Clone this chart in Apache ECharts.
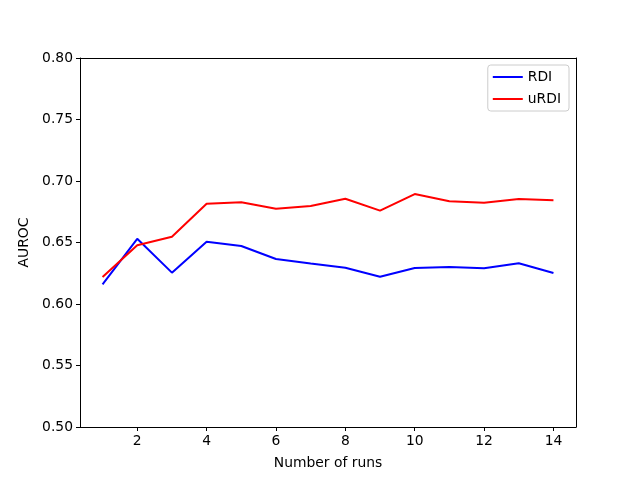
<!DOCTYPE html>
<html><head><meta charset="utf-8">
<script src="https://cdn.jsdelivr.net/npm/echarts@6/dist/echarts.min.js"></script>
<style>html,body{margin:0;padding:0;background:#fff}#c{width:640px;height:480px}</style>
</head><body><div id="c"></div>
<script>
const runs = [1,2,3,4,5,6,7,8,9,10,11,12,13,14];
const rdi = [0.616,0.653,0.6255,0.6507,0.6472,0.6366,0.633,0.6295,0.6222,0.6293,0.6301,0.629,0.6331,0.6252];
const urdi = [0.622,0.6477,0.6547,0.6815,0.6827,0.6775,0.6797,0.6856,0.6759,0.6894,0.6835,0.6824,0.6854,0.6843];
const xTicks = [2,4,6,8,10,12,14];
const font = 'DejaVu Sans';
const fs = 13.89;
const chart = echarts.init(document.getElementById('c'));
const pair = a => runs.map((r,i)=>[r,a[i]]);
chart.setOption({
  animation:false,
  textStyle:{fontFamily:font},
  grid:{left:80,right:64,top:58,bottom:53,containLabel:false},
  legend:{
    orient:'vertical', right:71, top:65,
    data:['RDI','uRDI'],
    icon:'rect', itemWidth:30, itemHeight:2, itemGap:8,
    textStyle:{fontFamily:font,fontSize:fs,color:'#000'},
    backgroundColor:'#fff', borderColor:'#cccccc', borderWidth:1, borderRadius:3,
    padding:[5,8,5,5]
  },
  xAxis:[{
    type:'value', min:0.35, max:14.65,
    name:'Number of runs', nameLocation:'middle', nameGap:29,
    nameTextStyle:{fontFamily:font,fontSize:fs,color:'#000'},
    axisLine:{lineStyle:{color:'#000',width:1}},
    axisTick:{show:true,length:4,inside:false,customValues:xTicks,lineStyle:{color:'#000'}},
    axisLabel:{customValues:xTicks,fontFamily:font,fontSize:fs,color:'#000',margin:7},
    splitLine:{show:false}
  },{
    type:'value', position:'top', min:0.35, max:14.65,
    axisLine:{show:true,lineStyle:{color:'#000',width:1}},
    axisTick:{show:false}, axisLabel:{show:false}, splitLine:{show:false}
  }],
  yAxis:[{
    type:'value', min:0.5, max:0.8, interval:0.05,
    name:'AUROC', nameLocation:'middle', nameGap:45, nameRotate:90,
    nameTextStyle:{fontFamily:font,fontSize:fs,color:'#000'},
    axisLine:{show:true,lineStyle:{color:'#000',width:1}},
    axisTick:{show:true,length:4,lineStyle:{color:'#000'}},
    axisLabel:{formatter:v=>v.toFixed(2),fontFamily:font,fontSize:fs,color:'#000',margin:7},
    splitLine:{show:false}
  },{
    type:'value', position:'right', min:0.5, max:0.8,
    axisLine:{show:true,lineStyle:{color:'#000',width:1}},
    axisTick:{show:false}, axisLabel:{show:false}, splitLine:{show:false}
  }],
  series:[
    {name:'RDI',type:'line',data:pair(rdi),showSymbol:false,symbol:'none',
     lineStyle:{color:'#0000ff',width:2},itemStyle:{color:'#0000ff'}},
    {name:'uRDI',type:'line',data:pair(urdi),showSymbol:false,symbol:'none',
     lineStyle:{color:'#ff0000',width:2},itemStyle:{color:'#ff0000'}}
  ]
});
</script></body></html>
